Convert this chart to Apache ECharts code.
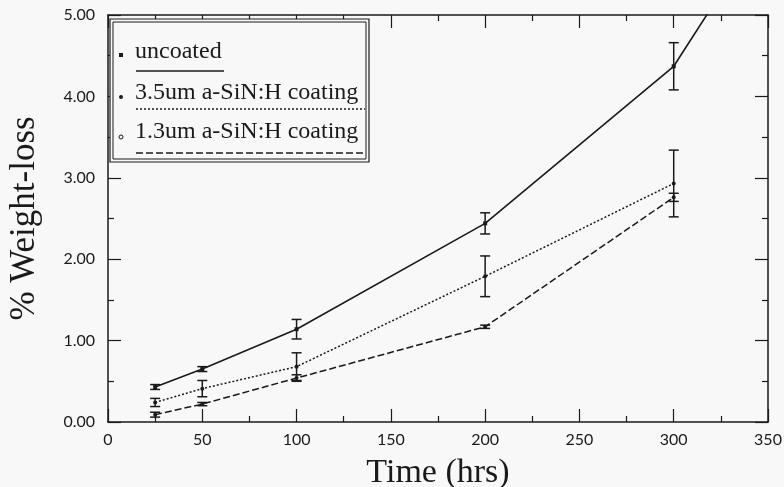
<!DOCTYPE html>
<html>
<head>
<meta charset="utf-8">
<script src="https://cdn.jsdelivr.net/npm/echarts@6/dist/echarts.min.js"></script>
<style>
  html, body { margin: 0; padding: 0; background: #f8f8f8; }
  #main { width: 784px; height: 487px; }
</style>
</head>
<body>
<div id="main"></div>
<script>
// 数据
var hours = [25, 50, 100, 200, 300];
var uncoatedHours = [25, 50, 100, 200, 300, 350];
var uncoated = [0.43, 0.65, 1.14, 2.44, 4.37, 6.17];
var uncoatedErr = [0.03, 0.03, 0.12, 0.13, 0.29];
var coat35 = [0.24, 0.41, 0.68, 1.79, 2.93];
var coat35Err = [0.05, 0.10, 0.17, 0.25, 0.41];
var coat13 = [0.09, 0.22, 0.54, 1.17, 2.76];
var coat13Err = [0.03, 0.02, 0.04, 0.02, 0.05];

var serif = "'Liberation Serif', 'DejaVu Serif', serif";
var sans = "Lato, 'DejaVu Sans', sans-serif";
var ink = '#1a1a1a';

function pairs(xs, ys) {
    var out = [];
    for (var i = 0; i < ys.length; i++) out.push([xs[i], ys[i]]);
    return out;
}
function errRows(xs, ys, es) {
    var out = [];
    for (var i = 0; i < es.length; i++) out.push([xs[i], ys[i] - es[i], ys[i] + es[i]]);
    return out;
}

//误差棒
function errorBar(params, api) {
    var x = api.value(0);
    var lo = api.coord([x, api.value(1)]);
    var hi = api.coord([x, api.value(2)]);
    var w = 5;
    var st = { stroke: ink, lineWidth: 1.5 };
    return {
        type: 'group',
        children: [
            { type: 'line', shape: { x1: lo[0], y1: lo[1], x2: hi[0], y2: hi[1] }, style: st },
            { type: 'line', shape: { x1: lo[0] - w, y1: lo[1], x2: lo[0] + w, y2: lo[1] }, style: st },
            { type: 'line', shape: { x1: hi[0] - w, y1: hi[1], x2: hi[0] + w, y2: hi[1] }, style: st }
        ]
    };
}

var myChart = echarts.init(document.getElementById('main'));

var tickStyle = { color: ink, width: 1.2 };
var frameLine = { show: true, onZero: false, lineStyle: { color: ink, width: 1.5 } };
var option = {
    backgroundColor: '#f8f8f8',
    animation: false,
    grid: { left: 108, right: 16, top: 15, bottom: 65, containLabel: false, outerBoundsMode: 'none' },
    xAxis: [{
        type: 'value', min: 0, max: 350, interval: 50,
        name: 'Time (hrs)', nameLocation: 'middle', nameGap: 34,
        nameTextStyle: { fontFamily: serif, fontSize: 34, color: ink },
        axisLine: frameLine,
        axisTick: { inside: true, length: 13, lineStyle: tickStyle },
        minorTick: { show: true, splitNumber: 2, length: 6, lineStyle: tickStyle },
        axisLabel: { fontFamily: sans, fontSize: 16, color: ink, margin: 10 },
        splitLine: { show: false }
    }, {
        type: 'value', min: 0, max: 350, interval: 50, position: 'top',
        axisLine: frameLine,
        axisTick: { inside: true, length: 13, lineStyle: tickStyle },
        minorTick: { show: true, splitNumber: 2, length: 6, lineStyle: tickStyle },
        axisLabel: { show: false },
        splitLine: { show: false }
    }],
    yAxis: [{
        type: 'value', min: 0, max: 5, interval: 1,
        name: '% Weight-loss', nameLocation: 'middle', nameGap: 66,
        nameTextStyle: { fontFamily: serif, fontSize: 35, color: ink },
        axisLine: frameLine,
        axisTick: { show: true, inside: true, length: 13, lineStyle: tickStyle },
        minorTick: { show: true, splitNumber: 2, length: 6, lineStyle: tickStyle },
        axisLabel: { fontFamily: sans, fontSize: 16, color: ink, margin: 13,
            formatter: function (v) { return v.toFixed(2); } },
        splitLine: { show: false }
    }, {
        type: 'value', min: 0, max: 5, interval: 1, position: 'right',
        axisLine: frameLine,
        axisTick: { show: true, inside: true, length: 13, lineStyle: tickStyle },
        minorTick: { show: true, splitNumber: 2, length: 6, lineStyle: tickStyle },
        axisLabel: { show: false },
        splitLine: { show: false }
    }],
    series: [
        {
            name: 'uncoated', type: 'line', data: pairs(uncoatedHours, uncoated),
            symbol: 'rect', symbolSize: 4, showSymbol: true, clip: true,
            lineStyle: { color: ink, width: 1.6 }, itemStyle: { color: ink }
        },
        {
            name: '3.5um a-SiN:H coating', type: 'line', data: pairs(hours, coat35),
            symbol: 'circle', symbolSize: 4,
            lineStyle: { color: ink, width: 1.5, type: [2, 2] }, itemStyle: { color: ink }
        },
        {
            name: '1.3um a-SiN:H coating', type: 'line', data: pairs(hours, coat13),
            symbol: 'circle', symbolSize: 4,
            lineStyle: { color: ink, width: 1.5, type: [7, 3] }, itemStyle: { color: ink }
        },
        { type: 'custom', renderItem: errorBar, data: errRows(hours, uncoated, uncoatedErr), z: 3 },
        { type: 'custom', renderItem: errorBar, data: errRows(hours, coat35, coat35Err), z: 3 },
        { type: 'custom', renderItem: errorBar, data: errRows(hours, coat13, coat13Err), z: 3 }
    ],
    graphic: [
        { type: 'rect', shape: { x: 110, y: 19, width: 259, height: 143 },
          style: { fill: '#f8f8f8', stroke: ink, lineWidth: 1.2 }, z: 10 },
        { type: 'rect', shape: { x: 113, y: 22, width: 253, height: 137 },
          style: { fill: 'none', stroke: ink, lineWidth: 1 }, z: 10 },
        // 图例
        { type: 'rect', shape: { x: 119, y: 53, width: 4, height: 4 }, style: { fill: ink }, z: 11 },
        { type: 'text', x: 135, y: 52, style: { text: 'uncoated', font: '24px ' + serif, fill: ink, textVerticalAlign: 'middle' }, z: 11 },
        { type: 'line', shape: { x1: 136, y1: 71, x2: 224, y2: 71 }, style: { stroke: ink, lineWidth: 1.6 }, z: 11 },
        { type: 'circle', shape: { cx: 121, cy: 97, r: 2 }, style: { fill: ink }, z: 11 },
        { type: 'text', x: 135, y: 93, style: { text: '3.5um a-SiN:H coating', font: '24px ' + serif, fill: ink, textVerticalAlign: 'middle' }, z: 11 },
        { type: 'line', shape: { x1: 136, y1: 109, x2: 365, y2: 109 }, style: { stroke: ink, lineWidth: 1.5, lineDash: [2, 2] }, z: 11 },
        { type: 'circle', shape: { cx: 121, cy: 137, r: 2 }, style: { fill: 'none', stroke: ink, lineWidth: 1 }, z: 11 },
        { type: 'text', x: 135, y: 132, style: { text: '1.3um a-SiN:H coating', font: '24px ' + serif, fill: ink, textVerticalAlign: 'middle' }, z: 11 },
        { type: 'line', shape: { x1: 136, y1: 153, x2: 365, y2: 153 }, style: { stroke: ink, lineWidth: 1.5, lineDash: [7, 3] }, z: 11 }
    ]
};

myChart.setOption(option);
</script>
</body>
</html>
